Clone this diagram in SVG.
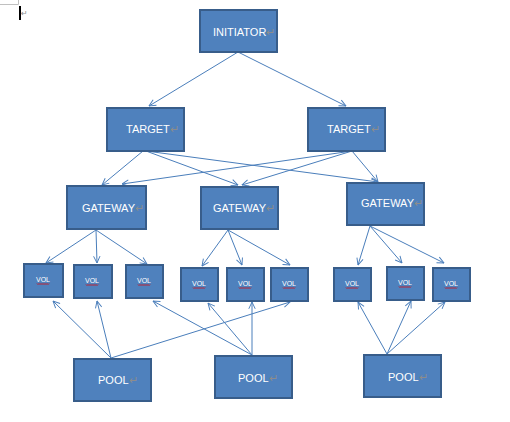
<svg xmlns="http://www.w3.org/2000/svg" width="510" height="422" viewBox="0 0 510 422">
<defs>
<style>
.box{fill:#4f81bd;stroke:#385d8a;stroke-width:2}
.lbl{font-family:"Liberation Sans",Arial,sans-serif;font-size:11px;fill:#ffffff}
.vol{font-family:"Liberation Sans",Arial,sans-serif;font-size:7px;fill:#ffffff;text-anchor:middle}
.ret{fill:#8c8c8c}
.wav{fill:none;stroke:#e00000;stroke-width:0.8}
.con line{stroke:#4a7ebb;stroke-width:1;marker-end:url(#arr)}
</style>
<marker id="arr" viewBox="0 0 10 10" refX="9.5" refY="5" markerWidth="8" markerHeight="8" orient="auto" markerUnits="userSpaceOnUse">
<path d="M1,1 L9.5,5 L1,9" fill="none" stroke="#4a7ebb" stroke-width="1.2"/>
</marker>
</defs>
<rect width="510" height="422" fill="#ffffff"/>
<g id="corner">
<path d="M0,4.5 H18.5 V0" fill="none" stroke="#c0c0c0" stroke-width="1"/>
<rect x="19" y="6" width="2" height="14" fill="#000000"/>
<text x="21" y="16" font-family="DejaVu Sans,sans-serif" font-size="8" class="ret">↵</text>
</g>
<g id="connectors" class="con">
<line x1="238" y1="52" x2="149" y2="106"/>
<line x1="238" y1="52" x2="346" y2="106"/>
<line x1="143" y1="151" x2="102" y2="185"/>
<line x1="146" y1="151" x2="238" y2="185"/>
<line x1="146" y1="151" x2="378" y2="182"/>
<line x1="352" y1="151" x2="122" y2="184"/>
<line x1="352" y1="151" x2="242" y2="185"/>
<line x1="352" y1="151" x2="378" y2="182"/>
<line x1="96" y1="230" x2="46" y2="263"/>
<line x1="96" y1="230" x2="97" y2="263"/>
<line x1="96" y1="230" x2="147" y2="264"/>
<line x1="228" y1="230" x2="202" y2="266"/>
<line x1="228" y1="230" x2="242" y2="265"/>
<line x1="228" y1="230" x2="290" y2="265"/>
<line x1="370" y1="226" x2="358" y2="265"/>
<line x1="370" y1="226" x2="402" y2="263"/>
<line x1="370" y1="226" x2="444" y2="263"/>
<line x1="111" y1="358" x2="53" y2="301"/>
<line x1="111" y1="358" x2="97" y2="301"/>
<line x1="111" y1="358" x2="290" y2="302"/>
<line x1="252" y1="355" x2="153" y2="301"/>
<line x1="252" y1="355" x2="208" y2="303"/>
<line x1="252" y1="355" x2="252" y2="302"/>
<line x1="387" y1="354" x2="358" y2="302"/>
<line x1="387" y1="354" x2="411" y2="301"/>
<line x1="387" y1="354" x2="445" y2="302"/>
</g>
<g id="initiator">
<rect class="box" x="200" y="10" width="77" height="42"/>
<text class="lbl" x="213" y="36">INITIATOR<tspan class="ret">↵</tspan></text>
</g>
<g id="target1">
<rect class="box" x="107" y="108" width="77" height="43"/>
<text class="lbl" x="126" y="133">TARGET<tspan class="ret">↵</tspan></text>
</g>
<g id="target2">
<rect class="box" x="308" y="108" width="77" height="43"/>
<text class="lbl" x="327" y="133">TARGET<tspan class="ret">↵</tspan></text>
</g>
<g id="gateway1">
<rect class="box" x="67" y="186" width="79" height="43"/>
<text class="lbl" x="82" y="212">GATEWAY<tspan class="ret">↵</tspan></text>
</g>
<g id="gateway2">
<rect class="box" x="201" y="187" width="77" height="42"/>
<text class="lbl" x="213" y="212">GATEWAY<tspan class="ret">↵</tspan></text>
</g>
<g id="gateway3">
<rect class="box" x="347" y="183" width="77" height="42"/>
<text class="lbl" x="361" y="207">GATEWAY<tspan class="ret">↵</tspan></text>
</g>
<g id="vol1">
<rect class="box" x="24" y="264" width="39" height="33"/>
<text class="vol" x="43" y="282">VOL</text>
<path class="wav" d="M37,283.5 l1,1 l1,-1 l1,1 l1,-1 l1,1 l1,-1 l1,1 l1,-1 l1,1 l1,-1 l1,1 l1,-1"/>
</g>
<g id="vol2">
<rect class="box" x="74" y="265" width="38" height="33"/>
<text class="vol" x="92" y="283">VOL</text>
<path class="wav" d="M86,284.5 l1,1 l1,-1 l1,1 l1,-1 l1,1 l1,-1 l1,1 l1,-1 l1,1 l1,-1 l1,1 l1,-1"/>
</g>
<g id="vol3">
<rect class="box" x="126" y="265" width="37" height="33"/>
<text class="vol" x="144" y="283">VOL</text>
<path class="wav" d="M138,284.5 l1,1 l1,-1 l1,1 l1,-1 l1,1 l1,-1 l1,1 l1,-1 l1,1 l1,-1 l1,1 l1,-1"/>
</g>
<g id="vol4">
<rect class="box" x="181" y="268" width="37" height="33"/>
<text class="vol" x="199" y="286">VOL</text>
<path class="wav" d="M193,287.5 l1,1 l1,-1 l1,1 l1,-1 l1,1 l1,-1 l1,1 l1,-1 l1,1 l1,-1 l1,1 l1,-1"/>
</g>
<g id="vol5">
<rect class="box" x="227" y="268" width="37" height="33"/>
<text class="vol" x="245" y="286">VOL</text>
<path class="wav" d="M239,287.5 l1,1 l1,-1 l1,1 l1,-1 l1,1 l1,-1 l1,1 l1,-1 l1,1 l1,-1 l1,1 l1,-1"/>
</g>
<g id="vol6">
<rect class="box" x="271" y="268" width="37" height="33"/>
<text class="vol" x="289" y="286">VOL</text>
<path class="wav" d="M283,287.5 l1,1 l1,-1 l1,1 l1,-1 l1,1 l1,-1 l1,1 l1,-1 l1,1 l1,-1 l1,1 l1,-1"/>
</g>
<g id="vol7">
<rect class="box" x="334" y="268" width="37" height="33"/>
<text class="vol" x="352" y="286">VOL</text>
<path class="wav" d="M346,287.5 l1,1 l1,-1 l1,1 l1,-1 l1,1 l1,-1 l1,1 l1,-1 l1,1 l1,-1 l1,1 l1,-1"/>
</g>
<g id="vol8">
<rect class="box" x="387" y="267" width="37" height="33"/>
<text class="vol" x="405" y="285">VOL</text>
<path class="wav" d="M399,286.5 l1,1 l1,-1 l1,1 l1,-1 l1,1 l1,-1 l1,1 l1,-1 l1,1 l1,-1 l1,1 l1,-1"/>
</g>
<g id="vol9">
<rect class="box" x="433" y="268" width="37" height="33"/>
<text class="vol" x="451" y="286">VOL</text>
<path class="wav" d="M445,287.5 l1,1 l1,-1 l1,1 l1,-1 l1,1 l1,-1 l1,1 l1,-1 l1,1 l1,-1 l1,1 l1,-1"/>
</g>
<g id="pool1">
<rect class="box" x="74" y="359" width="77" height="42"/>
<text class="lbl" x="98" y="384">POOL<tspan class="ret">↵</tspan></text>
</g>
<g id="pool2">
<rect class="box" x="215" y="356" width="77" height="42"/>
<text class="lbl" x="238" y="382">POOL<tspan class="ret">↵</tspan></text>
</g>
<g id="pool3">
<rect class="box" x="364" y="355" width="77" height="42"/>
<text class="lbl" x="388" y="381">POOL<tspan class="ret">↵</tspan></text>
</g>
</svg>
